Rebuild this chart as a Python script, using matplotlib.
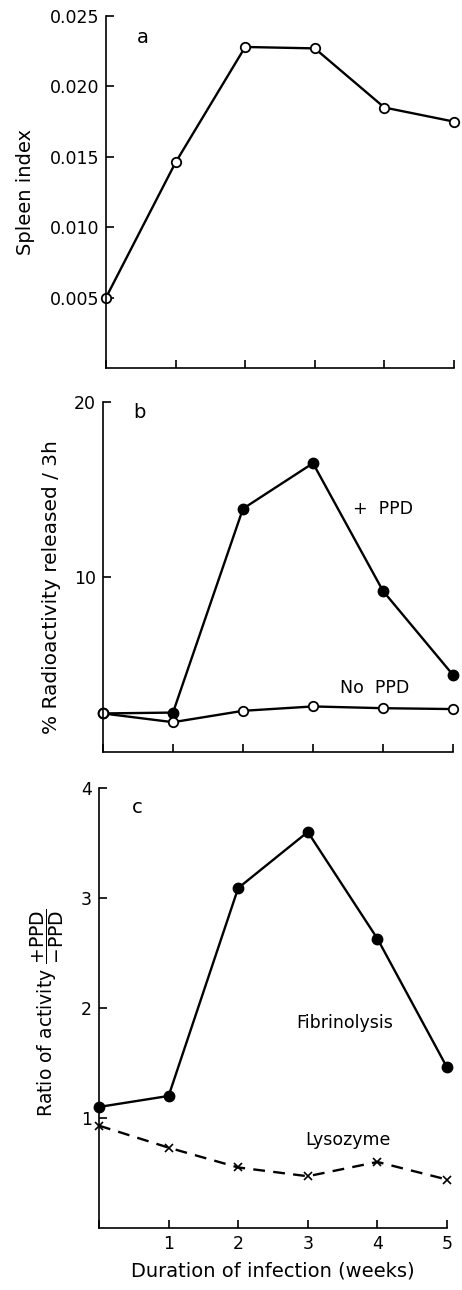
import matplotlib
matplotlib.use("Agg")
import matplotlib.pyplot as plt
from matplotlib.ticker import StrMethodFormatter

weeks = [0, 1, 2, 3, 4, 5]

# panel a
spleen_index = [0.0050, 0.0146, 0.0228, 0.0227, 0.0185, 0.0175]

# panel b
plus_ppd = [2.2, 2.25, 13.9, 16.5, 9.2, 4.4]
no_ppd = [2.2, 1.7, 2.35, 2.6, 2.5, 2.45]

# panel c
fibrinolysis = [1.10, 1.20, 3.09, 3.60, 2.63, 1.46]
lysozyme = [0.93, 0.73, 0.55, 0.47, 0.60, 0.44]

plt.rcParams["font.family"] = "DejaVu Sans"
plt.rcParams["font.size"] = 12
plt.rcParams["mathtext.default"] = "regular"

fig = plt.figure(figsize=(4.62, 12.9), dpi=100)
ax_a = fig.add_axes([0.2294, 0.7147, 0.7532, 0.2729])
ax_b = fig.add_axes([0.2229, 0.4171, 0.7576, 0.2713])
ax_c = fig.add_axes([0.2143, 0.0481, 0.7532, 0.3411])

for ax in (ax_a, ax_b, ax_c):
    for side in ("top", "right"):
        ax.spines[side].set_visible(False)
    for side in ("left", "bottom"):
        ax.spines[side].set_linewidth(1.2)
    ax.tick_params(direction="in", length=6, width=1.2, labelsize=12.5, pad=5)
    ax.set_xlim(0, 5)
    ax.set_xticks(weeks)

line_kw = dict(color="black", lw=1.7, clip_on=False)
open_kw = dict(marker="o", ms=6.8, mfc="white", mec="black", mew=1.3)
fill_kw = dict(marker="o", ms=7.5, mfc="black", mec="black")

# a
ax_a.plot(weeks, spleen_index, **open_kw, **line_kw)
ax_a.set_ylim(0, 0.025)
ax_a.set_yticks([0.005, 0.010, 0.015, 0.020, 0.025])
ax_a.yaxis.set_major_formatter(StrMethodFormatter("{x:.3f}"))
ax_a.set_xticklabels([])
ax_a.set_ylabel("Spleen index", fontsize=14)
ax_a.yaxis.set_label_coords(-0.205, 0.5)
ax_a.text(0.09, 0.94, "a", transform=ax_a.transAxes, fontsize=14, va="center")

# b
ax_b.plot(weeks, plus_ppd, **fill_kw, **line_kw)
ax_b.plot(weeks, no_ppd, **open_kw, **line_kw)
ax_b.set_ylim(0, 20)
ax_b.set_yticks([10, 20])
ax_b.set_xticklabels([])
ax_b.set_ylabel("% Radioactivity released / 3h", fontsize=14.5)
ax_b.yaxis.set_label_coords(-0.12, 0.47)
ax_b.text(0.086, 0.97, "b", transform=ax_b.transAxes, fontsize=14, va="center")
ax_b.text(3.57, 13.9, "+  PPD", fontsize=12.5, va="center")
ax_b.text(3.39, 3.66, "No  PPD", fontsize=12.5, va="center")

# c
ax_c.plot(weeks, fibrinolysis, **fill_kw, **line_kw)
ax_c.plot(weeks, lysozyme, marker="x", ms=6, mew=1.2, ls=(0, (5, 3.5)), color="black",
          lw=1.7, clip_on=False)
ax_c.set_ylim(0, 4)
ax_c.set_yticks([1, 2, 3, 4])
ax_c.set_xticklabels(["", "1", "2", "3", "4", "5"])
ax_c.set_ylabel(r"Ratio of activity $\dfrac{+PPD}{-PPD}$", fontsize=13.5)
ax_c.yaxis.set_label_coords(-0.095, 0.49)
ax_c.set_xlabel("Duration of infection (weeks)", fontsize=14, labelpad=6)
ax_c.text(0.095, 0.955, "c", transform=ax_c.transAxes, fontsize=14, va="center")
ax_c.text(2.83, 1.86, "Fibrinolysis", fontsize=12.5, va="center")
ax_c.text(2.97, 0.80, "Lysozyme", fontsize=12.5, va="center")

fig.savefig("out.png", dpi=100)
